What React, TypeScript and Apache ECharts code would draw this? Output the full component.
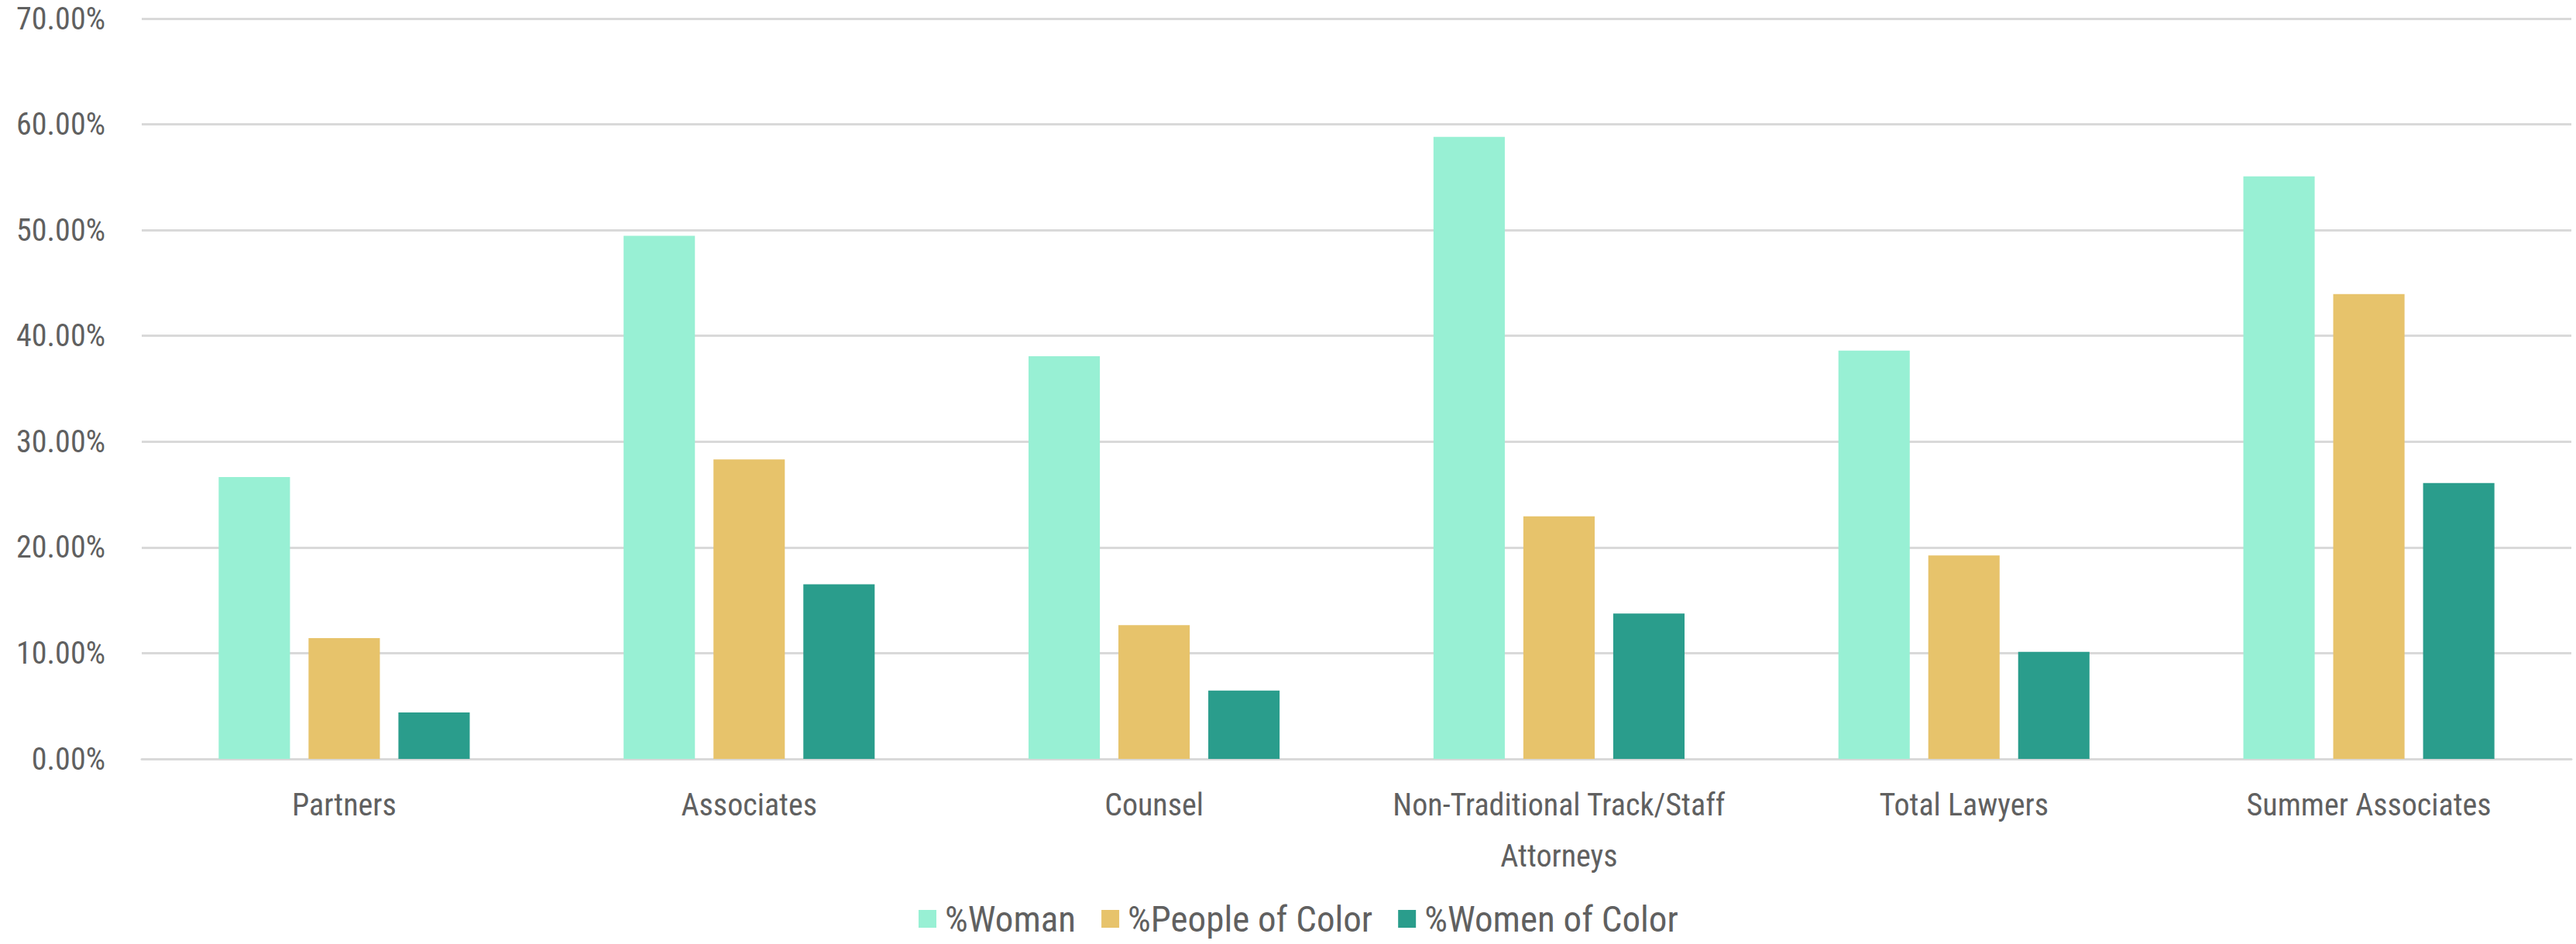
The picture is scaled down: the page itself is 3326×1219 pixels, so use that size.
import React, { useEffect, useRef } from "react";
import * as echarts from "echarts";

const categories = [
  "Partners",
  "Associates",
  "Counsel",
  "Non-Traditional Track/Staff Attorneys",
  "Total Lawyers",
  "Summer Associates",
];
const seriesNames = ["%Woman", "%People of Color", "%Women of Color"];
const woman = [26.65, 49.46, 38.07, 58.81, 38.6, 55.08];
const peopleOfColor = [11.42, 28.31, 12.64, 22.94, 19.23, 43.96];
const womenOfColor = [4.39, 16.52, 6.47, 13.74, 10.13, 26.08];
const colors = ["#98F0D4", "#E7C36B", "#2A9D8C"];
const yMin = 0;
const yMax = 70;
const yStep = 10;

const FONT = "'Liberation Sans Narrow', 'Roboto Condensed', 'DejaVu Sans Condensed', sans-serif";
const TEXT = "#606060";

function measure(text: string, size: number): number {
  try {
    const c = document.createElement("canvas");
    const ctx = c.getContext("2d");
    if (!ctx) return 0;
    ctx.font = `${size}px ${FONT}`;
    return ctx.measureText(text).width;
  } catch (e) {
    return 0;
  }
}

function fitSize(text: string, target: number, fallback: number): number {
  const w = measure(text, 44);
  if (!w) return fallback;
  return Math.max(28, Math.min(56, (44 * target) / w));
}

export default function App() {
  const ref = useRef<HTMLDivElement>(null);
  useEffect(() => {
    if (!ref.current) return;
    const chart = echarts.init(ref.current, undefined, { renderer: "svg" });
    const values = [woman, peopleOfColor, womenOfColor];
    const fs = fitSize("Non-Traditional Track/Staff", 430, 37);
    const lfs = Math.min(47, fitSize("%People of Color", 322, fs * 1.15));
    const lh = 66;
    const legendLH = 40;
    chart.setOption({
      animation: false,
      backgroundColor: "#ffffff",
      textStyle: { fontFamily: FONT },
      grid: { left: 183, right: 6, top: 24, bottom: 239, containLabel: false },
      legend: {
        data: seriesNames,
        left: 1181,
        top: 1178 - legendLH / 2,
        itemWidth: 23,
        itemHeight: 23,
        itemGap: 33,
        icon: "rect",
        textStyle: {
          fontFamily: FONT,
          fontSize: lfs,
          color: TEXT,
          lineHeight: legendLH,
          padding: [0, 0, 0, 6],
        },
      },
      xAxis: {
        type: "category",
        data: categories,
        axisTick: { show: false },
        axisLine: { show: true, lineStyle: { color: "#D9D9D9", width: 3 } },
        axisLabel: {
          fontFamily: FONT,
          fontSize: fs,
          color: TEXT,
          lineHeight: lh,
          margin: Math.round(47 - (lh - fs) / 2 - fs * 0.2),
          interval: 0,
          formatter: (v: string) => v.replace("Track/Staff ", "Track/Staff\n"),
        },
      },
      yAxis: {
        type: "value",
        min: yMin,
        max: yMax,
        interval: yStep,
        axisLine: { show: false },
        axisTick: { show: false },
        splitLine: { show: true, lineStyle: { color: "#D9D9D9", width: 3 } },
        axisLabel: {
          fontFamily: FONT,
          fontSize: fs,
          color: TEXT,
          margin: 47,
          formatter: (v: number) => v.toFixed(2) + "%",
        },
      },
      series: seriesNames.map((name, i) => ({
        name,
        type: "bar",
        data: values[i],
        barGap: "26%",
        barCategoryGap: "38%",
        itemStyle: { color: colors[i] },
      })),
    });
    return () => chart.dispose();
  }, []);
  return (
    <div
      ref={ref}
      style={{ position: "fixed", left: 0, top: 0, width: 3326, height: 1219, background: "#fff" }}
    />
  );
}
